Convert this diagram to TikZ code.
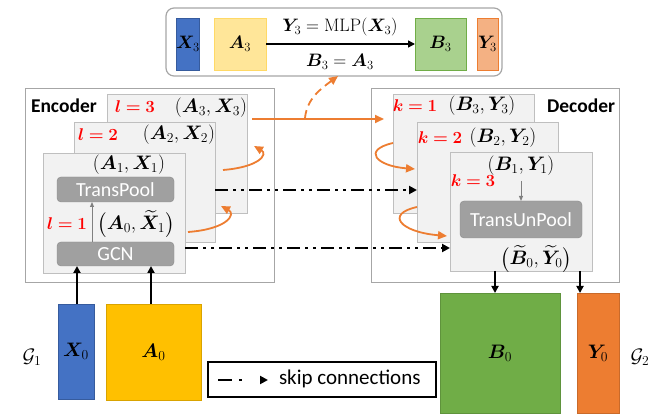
\RequirePackage{fix-cm}
\documentclass[tikz,border=0pt]{standalone}
\usepackage{amsmath,bm}
\usepackage[no-math]{fontspec}
\setmainfont{Carlito}
\usetikzlibrary{arrows.meta}
\definecolor{cblue}{HTML}{4472C4}
\definecolor{cyellow}{HTML}{FFC000}
\definecolor{cgreen}{HTML}{70AD47}
\definecolor{corange}{HTML}{ED7D31}
\definecolor{lyellow}{HTML}{FFE699}
\definecolor{lgreen}{HTML}{A9D18E}
\definecolor{lorange}{HTML}{F4B183}
\definecolor{cardfill}{HTML}{F2F2F2}
\definecolor{cardline}{HTML}{BFBFBF}
\definecolor{modfill}{HTML}{A0A0A0}
\definecolor{modline}{HTML}{8A8A8A}
\definecolor{boxline}{HTML}{A6A6A6}
\definecolor{cred}{HTML}{FF0000}
\begin{document}
\begin{tikzpicture}[x=1pt,y=-1pt,
  every node/.style={inner sep=0pt,outer sep=0pt},
  frame/.style={draw=boxline,line width=1pt,anchor=north west},
  card/.style={draw=cardline,fill=cardfill,line width=0.8pt,anchor=north west},
  module/.style={draw=modline,fill=modfill,rounded corners=4pt,text=white,
    font=\fontsize{20}{24}\selectfont,anchor=north west},
  blk/.style={anchor=north west,line width=0.8pt},
  mth/.style={font=\fontsize{19.5}{22}\selectfont},
  mtop/.style={font=\fontsize{18}{22}\selectfont},
  redlab/.style={text=cred,font=\fontsize{17}{20}\selectfont},
  title/.style={font=\fontsize{19.5}{24}\selectfont\bfseries},
  orarrow/.style={draw=corange,line width=1.8pt,-{Triangle[length=9pt,width=8pt]}},
  grayarrow/.style={draw=gray,line width=1pt,-{Triangle[length=5pt,width=4pt]}},
  blackarrow/.style={draw=black,line width=1.8pt,-{Triangle[length=7pt,width=7pt]}},
  skipline/.style={draw=black,line width=2.2pt,dash pattern=on 13pt off 5pt on 3pt off 5pt on 3pt off 5pt,
    -{Triangle[length=8pt,width=8pt]}}
]
\useasboundingbox (0,0) rectangle (659,414);

% ---------- top box ----------
\node[draw=boxline,line width=1.2pt,rounded corners=8pt,anchor=north west,
  minimum width=336pt,minimum height=68pt] (top) at (166,8) {};
\node[blk,draw=cblue!80!black,fill=cblue,minimum width=22pt,minimum height=52pt,mtop] (X3) at (176,18) {$\bm{X}_3$};
\node[blk,draw=cyellow!60,fill=lyellow,minimum width=52pt,minimum height=52pt,mtop] (A3) at (214,18) {$\bm{A}_3$};
\node[blk,draw=cgreen,fill=lgreen,minimum width=51pt,minimum height=52pt,mtop] (B3) at (415,18) {$\bm{B}_3$};
\node[blk,draw=corange,fill=lorange,minimum width=21pt,minimum height=52pt,mtop] (Y3) at (477,18) {$\bm{Y}_3$};
\draw[blackarrow,line width=1.5pt] (A3.east) -- (B3.west);
\node[mtop] (mlp) at (340,27) {$\bm{Y}_3=\mathrm{MLP}(\bm{X}_3)$};
\node[mtop] (eq) at (340,62) {$\bm{B}_3=\bm{A}_3$};

% ---------- encoder ----------
\node[frame,minimum width=249pt,minimum height=194pt] (enc) at (25,89) {};
\node[title,anchor=west] (enclab) at (31,106) {Encoder};
\node[card,minimum width=140pt,minimum height=119pt] (l3) at (107,94) {};
\node[card,minimum width=141pt,minimum height=120pt] (l2) at (74,122) {};
\node[card,minimum width=142pt,minimum height=120pt] (l1) at (43,153) {};
\node[redlab] (l3lab) at (135,107) {$\bm{l=3}$};
\node[mth] (A3X3) at (211,108) {$(\bm{A}_3,\bm{X}_3)$};
\node[redlab] (l2lab) at (98,135) {$\bm{l=2}$};
\node[mth] (A2X2) at (179,135) {$(\bm{A}_2,\bm{X}_2)$};
\node[mth] (A1X1) at (129,165) {$(\bm{A}_1,\bm{X}_1)$};
\node[module,minimum width=117pt,minimum height=25pt] (TP) at (57,177) {TransPool};
\node[module,minimum width=117pt,minimum height=24pt] (GCN) at (57,242) {GCN};
\node[redlab] (l1lab) at (67,224) {$\bm{l=1}$};
\node[mth] (A0X1) at (136,224) {$\bigl(\bm{A}_0,\widetilde{\bm{X}}_1\bigr)$};
\coordinate (tpx) at (92,0);
\draw[grayarrow] (GCN.north -| tpx) -- (TP.south -| tpx);

% ---------- decoder ----------
\node[frame,minimum width=248pt,minimum height=194pt] (dec) at (371,89) {};
\node[title,anchor=east] (declab) at (615,106) {Decoder};
\node[card,minimum width=141pt,minimum height=119pt] (k1) at (393,94) {};
\node[card,minimum width=141pt,minimum height=120pt] (k2) at (417,122) {};
\node[card,minimum width=142pt,minimum height=119pt] (k3) at (450,152) {};
\node[redlab] (k1lab) at (415,106) {$\bm{k=1}$};
\node[mth] (B3Y3) at (482,106) {$(\bm{B}_3,\bm{Y}_3)$};
\node[redlab] (k2lab) at (440,138) {$\bm{k=2}$};
\node[mth] (B2Y2) at (503,138) {$(\bm{B}_2,\bm{Y}_2)$};
\node[mth] (B1Y1) at (521,166) {$(\bm{B}_1,\bm{Y}_1)$};
\node[redlab] (k3lab) at (473,181) {$\bm{k=3}$};
\node[module,minimum width=122pt,minimum height=37pt] (TUP) at (460,201) {TransUnPool};
\coordinate (uparr) at (521,181);
\draw[grayarrow] (uparr) -- (TUP.north);
\node[mth] (B0Y0) at (536,259) {$\bigl(\widetilde{\bm{B}}_0,\widetilde{\bm{Y}}_0\bigr)$};

% ---------- bottom blocks ----------
\node[blk,draw=cblue!80!black,fill=cblue,minimum width=36pt,minimum height=95pt,mth] (X0) at (58,304) {$\bm{X}_0$};
\node[blk,draw=cyellow!85!black,fill=cyellow,minimum width=95pt,minimum height=96pt,mth] (A0) at (106,304) {$\bm{A}_0$};
\node[blk,draw=cgreen!85!black,fill=cgreen,minimum width=120pt,minimum height=120pt,mth] (B0) at (440,293) {$\bm{B}_0$};
\node[blk,draw=corange!85!black,fill=corange,minimum width=42pt,minimum height=120pt,mth] (Y0) at (577,293) {$\bm{Y}_0$};
\node[mth] (G1) at (32,357) {$\mathcal{G}_1$};
\node[mth] (G2) at (640,357) {$\mathcal{G}_2$};

\coordinate (xa) at (77,0);
\coordinate (aa) at (151,0);
\draw[blackarrow] (X0.north -| xa) -- (GCN.south -| xa);
\draw[blackarrow] (A0.north -| aa) -- (GCN.south -| aa);
\coordinate (ba) at (495,0);
\coordinate (ya) at (580,0);
\draw[blackarrow] (k3.south -| ba) -- (B0.north -| ba);
\draw[blackarrow] (k3.south -| ya) -- (Y0.north -| ya);

% ---------- orange arrows ----------
\coordinate (e1s) at (188,232);
\coordinate (e1e) at (221,206);
\draw[orarrow] (e1s) .. controls (228,229) and (236,214) .. (e1e);
\coordinate (e2s) at (223,170);
\coordinate (e2e) at (254,146);
\draw[orarrow] (e2s) .. controls (260,167) and (268,154) .. (e2e);
\coordinate (hs) at (252,119);
\coordinate (he) at (384,119);
\draw[orarrow] (hs) -- (he);
\coordinate (ds) at (305,118);
\draw[orarrow,dashed,dash pattern=on 8pt off 5pt] (ds) .. controls (307,98) and (322,88) .. (top.south -| 338,0);
\coordinate (d1s) at (393,143);
\coordinate (d1e) at (415,169);
\draw[orarrow] (d1s) .. controls (362,150) and (376,166) .. (d1e);
\coordinate (d2s) at (417,207);
\coordinate (d2e) at (447,236);
\draw[orarrow] (d2s) .. controls (385,214) and (400,232) .. (d2e);

% ---------- skip connections ----------
\coordinate (s1) at (0,190);
\coordinate (s2) at (0,248);
\draw[skipline] (l2.east |- s1) -- (k2.west |- s1);
\draw[skipline] (l1.east |- s2) -- (k3.west |- s2);

% ---------- legend ----------
\node[draw=black,line width=2pt,anchor=north west,minimum width=228pt,minimum height=35pt] (leg) at (208,362) {};
\coordinate (lg1) at (218,380);
\coordinate (lg2) at (268,380);
\draw[skipline,dash pattern=on 14pt off 7pt on 3pt off 30pt] (lg1) -- (lg2);
\node[anchor=west,font=\fontsize{21}{24}\selectfont] (legtxt) at (279,379) {skip connections};
\end{tikzpicture}
\end{document}
